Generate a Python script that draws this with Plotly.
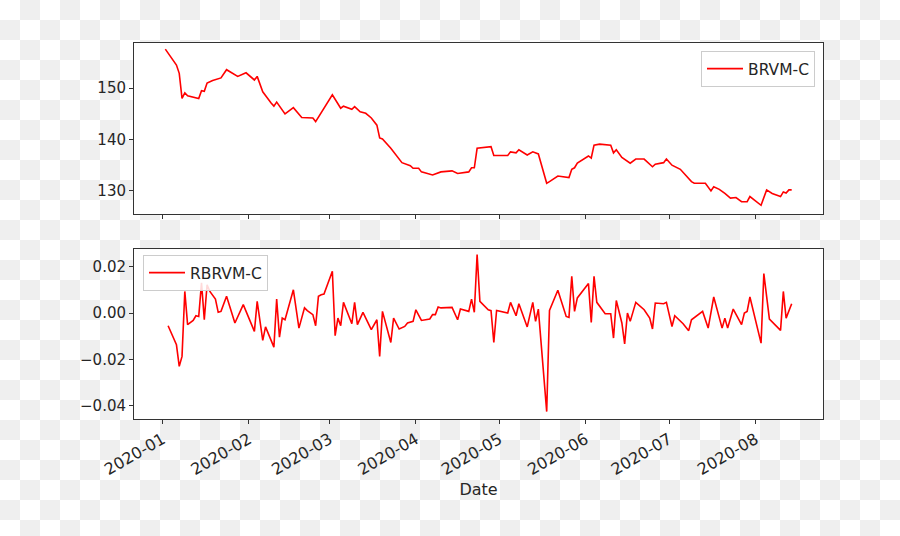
import plotly.graph_objects as go
from plotly.subplots import make_subplots

# ---- data ----
price_dates = [
    "2020-01-02", "2020-01-06", "2020-01-07", "2020-01-08", "2020-01-09", "2020-01-10",
    "2020-01-14", "2020-01-15", "2020-01-16", "2020-01-17", "2020-01-19", "2020-01-21",
    "2020-01-22", "2020-01-24", "2020-01-28", "2020-01-31", "2020-02-03", "2020-02-04",
    "2020-02-06", "2020-02-09", "2020-02-10", "2020-02-11", "2020-02-14", "2020-02-17",
    "2020-02-20", "2020-02-24", "2020-02-25", "2020-03-02", "2020-03-05", "2020-03-06",
    "2020-03-09", "2020-03-10", "2020-03-12", "2020-03-14", "2020-03-16", "2020-03-18",
    "2020-03-19", "2020-03-20", "2020-03-23", "2020-03-27", "2020-03-30", "2020-03-31",
    "2020-04-02", "2020-04-03", "2020-04-07", "2020-04-10", "2020-04-14", "2020-04-16",
    "2020-04-20", "2020-04-21", "2020-04-22", "2020-04-23", "2020-04-28", "2020-04-29",
    "2020-05-04", "2020-05-05", "2020-05-07", "2020-05-08", "2020-05-11", "2020-05-13",
    "2020-05-15", "2020-05-18", "2020-05-19", "2020-05-22", "2020-05-26", "2020-05-27",
    "2020-05-28", "2020-05-29", "2020-06-02", "2020-06-03", "2020-06-04", "2020-06-06",
    "2020-06-10", "2020-06-11", "2020-06-12", "2020-06-14", "2020-06-17", "2020-06-19",
    "2020-06-22", "2020-06-25", "2020-06-26", "2020-06-29", "2020-06-30", "2020-07-02",
    "2020-07-05", "2020-07-09", "2020-07-10", "2020-07-14", "2020-07-16", "2020-07-17",
    "2020-07-19", "2020-07-21", "2020-07-23", "2020-07-25", "2020-07-27", "2020-07-29",
    "2020-07-30", "2020-08-03", "2020-08-05", "2020-08-07", "2020-08-10", "2020-08-11",
    "2020-08-12", "2020-08-13", "2020-08-14",
]
price_values = [
    157.6, 154.5, 152.9, 148.0, 149.1, 148.5,
    148.0, 149.5, 149.4, 151.0, 151.5, 151.9,
    152.0, 153.6, 152.3, 153.0, 151.6, 152.3,
    149.3, 147.1, 146.5, 147.3, 145.0, 146.2,
    144.3, 144.2, 143.5, 148.7, 146.1, 146.5,
    145.9, 146.4, 145.4, 145.1, 144.2, 142.8,
    140.3, 140.1, 138.3, 135.5, 134.9, 134.4,
    134.4, 133.7, 133.1, 133.7, 133.9, 133.4,
    133.7, 134.5, 134.5, 138.3, 138.6, 136.9,
    136.9, 137.6, 137.4, 138.0, 137.0, 137.6,
    137.2, 131.5, 131.8, 132.9, 132.6, 134.2,
    134.5, 135.4, 136.8, 136.4, 138.9, 139.1,
    138.9, 137.4, 138.0, 136.5, 135.4, 136.2,
    136.2, 134.7, 135.2, 135.5, 136.2, 135.0,
    134.2, 131.8, 131.5, 131.5, 130.0, 130.8,
    130.3, 129.5, 128.6, 128.7, 127.9, 127.9,
    128.9, 127.2, 130.2, 129.5, 128.9, 129.8,
    129.6, 130.2, 130.2,
]

ret_dates = [
    "2020-01-03", "2020-01-06", "2020-01-07", "2020-01-08", "2020-01-09", "2020-01-10",
    "2020-01-12", "2020-01-13", "2020-01-14", "2020-01-15", "2020-01-16", "2020-01-17",
    "2020-01-18", "2020-01-20", "2020-01-21", "2020-01-22", "2020-01-24", "2020-01-27",
    "2020-01-30", "2020-02-03", "2020-02-04", "2020-02-06", "2020-02-07", "2020-02-10",
    "2020-02-11", "2020-02-12", "2020-02-13", "2020-02-14", "2020-02-17", "2020-02-19",
    "2020-02-21", "2020-02-22", "2020-02-24", "2020-02-25", "2020-02-26", "2020-02-27",
    "2020-02-28", "2020-03-02", "2020-03-03", "2020-03-04", "2020-03-05", "2020-03-06",
    "2020-03-09", "2020-03-10", "2020-03-11", "2020-03-13", "2020-03-16", "2020-03-18",
    "2020-03-19", "2020-03-20", "2020-03-23", "2020-03-24", "2020-03-26", "2020-03-28",
    "2020-03-29", "2020-03-31", "2020-04-01", "2020-04-03", "2020-04-06", "2020-04-07",
    "2020-04-08", "2020-04-09", "2020-04-10", "2020-04-14", "2020-04-16", "2020-04-17",
    "2020-04-20", "2020-04-21", "2020-04-22", "2020-04-23", "2020-04-24", "2020-04-27",
    "2020-04-28", "2020-04-29", "2020-04-30", "2020-05-04", "2020-05-05", "2020-05-07",
    "2020-05-08", "2020-05-11", "2020-05-13", "2020-05-14", "2020-05-15", "2020-05-18",
    "2020-05-19", "2020-05-22", "2020-05-25", "2020-05-26", "2020-05-27", "2020-05-28",
    "2020-05-29", "2020-06-02", "2020-06-03", "2020-06-04", "2020-06-05", "2020-06-08",
    "2020-06-10", "2020-06-11", "2020-06-12", "2020-06-14", "2020-06-15", "2020-06-16",
    "2020-06-17", "2020-06-19", "2020-06-22", "2020-06-24", "2020-06-25", "2020-06-26",
    "2020-06-29", "2020-06-30", "2020-07-02", "2020-07-03", "2020-07-06", "2020-07-08",
    "2020-07-09", "2020-07-13", "2020-07-15", "2020-07-17", "2020-07-20", "2020-07-21",
    "2020-07-22", "2020-07-24", "2020-07-27", "2020-07-28", "2020-07-29", "2020-07-30",
    "2020-08-03", "2020-08-04", "2020-08-06", "2020-08-10", "2020-08-11", "2020-08-12",
    "2020-08-14",
]
ret_values = [
    -0.0055, -0.0137, -0.0230, -0.0187, 0.0093, -0.0050,
    -0.0032, -0.0012, -0.0015, 0.0130, -0.0029, 0.0122,
    0.0093, 0.0060, 0.0003, 0.0007, 0.0072, -0.0043,
    0.0036, -0.0079, 0.0050, -0.0118, -0.0060, -0.0147,
    0.0060, -0.0104, -0.0022, -0.0029, 0.0100, -0.0065,
    0.0022, 0.0010, -0.0007, -0.0055, 0.0072, 0.0079,
    0.0082, 0.0180, -0.0098, -0.0022, -0.0055, 0.0046,
    -0.0046, 0.0046, -0.0050, 0.0003, -0.0072, -0.0029,
    -0.0187, 0.0007, -0.0127, -0.0022, -0.0069, -0.0058,
    -0.0043, -0.0036, 0.0014, -0.0032, -0.0026, -0.0007,
    -0.0007, 0.0026, 0.0022, 0.0024, -0.0029, 0.0017,
    0.0007, 0.0060, 0.0003, 0.0252, 0.0050, 0.0014,
    0.0010, -0.0127, 0.0011, 0.0000, 0.0046, -0.0012,
    0.0040, -0.0060, 0.0046, -0.0036, 0.0017, -0.0425,
    0.0011, 0.0098, -0.0015, -0.0019, 0.0158, 0.0007,
    0.0065, 0.0127, -0.0041, 0.0158, 0.0046, -0.0003,
    -0.0003, -0.0108, 0.0054, -0.0043, -0.0133, 0.0000,
    -0.0036, 0.0046, 0.0014, -0.0022, -0.0069, 0.0043,
    0.0040, 0.0046, -0.0058, -0.0012, -0.0046, -0.0076,
    -0.0029, 0.0007, -0.0065, 0.0069, -0.0065, -0.0022,
    -0.0065, 0.0017, -0.0050, 0.0000, 0.0007, 0.0069,
    -0.0130, 0.0170, -0.0026, -0.0075, 0.0093, -0.0022,
    0.0040,
]

price_name = "BRVM-C"
ret_name = "RBRVM-C"
price_ticks = [130, 140, 150]
ret_ticks = [-0.04, -0.02, 0.00, 0.02]
month_ticks = ["2020-01-01", "2020-02-01", "2020-03-01", "2020-04-01",
               "2020-05-01", "2020-06-01", "2020-07-01", "2020-08-01"]
x_label = "Date"

# ---- layout constants ----
W, H = 900, 536
ML, MR, MT, MB = 134, 77, 43, 117
PW, PH = W - ML - MR, H - MT - MB

FONT = "DejaVu Sans, sans-serif"
TXT = "#262626"
AX = "#333333"

fig = make_subplots(rows=2, cols=1, shared_xaxes=False, vertical_spacing=0.0)

fig.add_trace(go.Scatter(x=price_dates, y=price_values, mode="lines", name=price_name,
                         line=dict(color="#ff0000", width=1.6), legend="legend"),
              row=1, col=1)
fig.add_trace(go.Scatter(x=ret_dates, y=ret_values, mode="lines", name=ret_name,
                         line=dict(color="#ff0000", width=1.6), legend="legend2"),
              row=2, col=1)

xrange = ["2019-12-21 18:00", "2020-08-25 06:00"]
common_x = dict(type="date", range=xrange, tickvals=month_ticks,
                tickformat="%Y-%m", ticks="outside", ticklen=4, tickwidth=1, tickcolor=AX,
                showline=True, linecolor=AX, linewidth=1, mirror=True, showgrid=False,
                zeroline=False)

fig.update_layout(
    xaxis=dict(**common_x, showticklabels=False, domain=[0, 1]),
    xaxis2=dict(**common_x, showticklabels=True, tickangle=-30,
                tickfont=dict(family=FONT, size=16, color=TXT),
                title=dict(text=x_label, font=dict(family=FONT, size=16, color=TXT),
                           standoff=5), domain=[0, 1]),
    yaxis=dict(domain=[1 - 171 / PH, 1], range=[125.5, 158.8], tickvals=price_ticks,
               ticks="outside", ticklen=4, tickwidth=1, tickcolor=AX,
               tickfont=dict(family=FONT, size=15, color=TXT),
               showline=True, linecolor=AX, linewidth=1, mirror=True,
               showgrid=False, zeroline=False),
    yaxis2=dict(domain=[0, 170 / PH], range=[-0.0457, 0.0276], tickvals=ret_ticks,
                tickformat=".2f", ticks="outside", ticklen=4, tickwidth=1, tickcolor=AX,
                tickfont=dict(family=FONT, size=15, color=TXT),
                showline=True, linecolor=AX, linewidth=1, mirror=True,
                showgrid=False, zeroline=False),
    legend=dict(x=(815 - ML) / PW, y=1 - (51 - MT) / PH, xanchor="right", yanchor="top",
                bgcolor="rgba(255,255,255,0.85)", bordercolor="#cccccc", borderwidth=1,
                itemwidth=36, font=dict(family=FONT, size=15.5, color=TXT)),
    legend2=dict(x=(143 - ML) / PW, y=1 - (255 - MT) / PH, xanchor="left", yanchor="top",
                 bgcolor="rgba(255,255,255,0.85)", bordercolor="#cccccc", borderwidth=1,
                 itemwidth=36, font=dict(family=FONT, size=15.5, color=TXT)),
    width=W, height=H,
    margin=dict(l=ML, r=MR, t=MT, b=MB),
    paper_bgcolor="white",
    plot_bgcolor="white",
    showlegend=True,
)

# checkerboard backdrop (transparent-PNG look of the reference), one path in paper coords
def px(X):
    return (X - ML) / PW


def py(Y):
    return 1 - (Y - MT) / PH


SQ = 20
parts = []
for r in range(0, (H + SQ - 1) // SQ):
    for c in range(0, (W + SQ - 1) // SQ):
        if (r + c) % 2 == 1:
            x0, x1 = c * SQ, min((c + 1) * SQ, W)
            y0, y1 = r * SQ, min((r + 1) * SQ, H)
            parts.append(f"M{px(x0):.5f},{py(y0):.5f}H{px(x1):.5f}V{py(y1):.5f}H{px(x0):.5f}Z")
fig.add_shape(type="path", xref="paper", yref="paper", path="".join(parts),
              fillcolor="#efefef", line=dict(width=0), layer="below")

# white axes backgrounds on top of the backdrop
for xr, yr in [("x domain", "y domain"), ("x2 domain", "y2 domain")]:
    fig.add_shape(type="rect", xref=xr, yref=yr, x0=0, x1=1, y0=0, y1=1,
                  fillcolor="white", line=dict(width=0), layer="below")

fig.write_html(
    "out.html",
    config={"displayModeBar": False},
    post_script="document.body.style.margin='0';document.body.style.overflow='hidden';",
)
